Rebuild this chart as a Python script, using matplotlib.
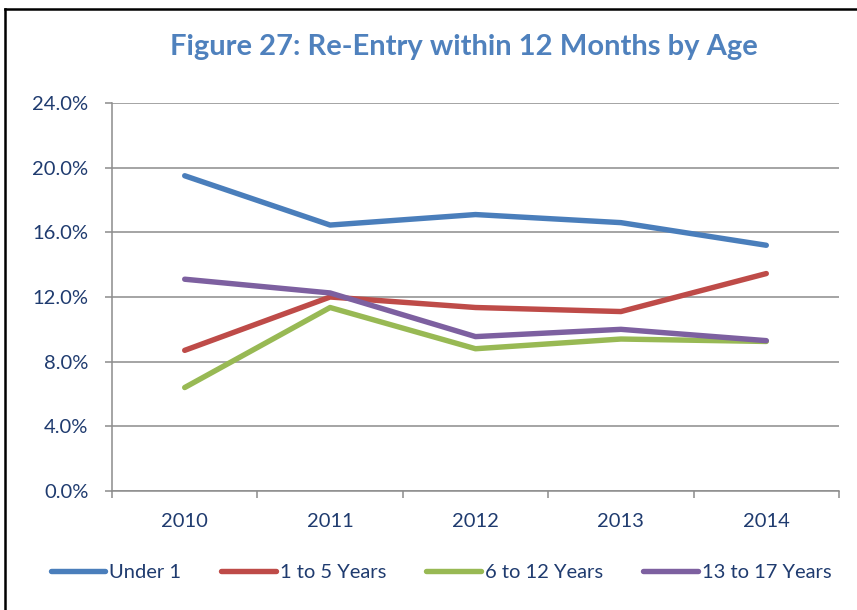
import matplotlib
matplotlib.use("Agg")
import matplotlib.pyplot as plt
from matplotlib.lines import Line2D
from matplotlib.ticker import FixedLocator, FuncFormatter

years = ["2010", "2011", "2012", "2013", "2014"]
under_1 = [19.5, 16.45, 17.1, 16.6, 15.2]
age_1_5 = [8.7, 12.0, 11.35, 11.1, 13.45]
age_6_12 = [6.4, 11.35, 8.8, 9.4, 9.25]
age_13_17 = [13.1, 12.25, 9.55, 10.0, 9.3]
series_names = ["Under 1", "1 to 5 Years", "6 to 12 Years", "13 to 17 Years"]
yticks = [0, 4, 8, 12, 16, 20, 24]

colors = ["#4A7EBB", "#BE4B48", "#98B954", "#7D60A0"]
text_color = "#1F3B6F"
grid_color = "#8C8C8C"
FONT = ["Lato", "DejaVu Sans"]
plt.rcParams["font.family"] = FONT

W, H = 857, 610
fig = plt.figure(figsize=(W / 100, H / 100), dpi=100)
ax = fig.add_axes([112 / W, 1 - 491 / H, (839 - 112) / W, (491 - 103) / H])

x = list(range(len(years)))
for vals, c, name in zip([under_1, age_1_5, age_6_12, age_13_17], colors, series_names):
    ax.plot(x, vals, color=c, lw=3.9, solid_capstyle="round", solid_joinstyle="round", label=name, zorder=3)

ax.set_xlim(-0.5, len(years) - 0.5)
ax.set_ylim(0, 24)
ax.yaxis.set_major_locator(FixedLocator(yticks))
ax.yaxis.set_major_formatter(FuncFormatter(lambda v, p: f"{v:.1f}%"))
ax.set_xticks(x)
ax.set_xticklabels(years)
ax.xaxis.set_minor_locator(FixedLocator([i - 0.5 for i in range(len(years) + 1)]))
ax.tick_params(axis="x", which="major", length=0, pad=16, labelsize=14.5, labelcolor=text_color)
ax.tick_params(axis="x", which="minor", length=5, width=1.1, color=grid_color, direction="out")
ax.tick_params(axis="y", which="major", length=5, width=1.1, color=grid_color, pad=12, labelsize=14.5, labelcolor=text_color)
ax.grid(axis="y", color=grid_color, lw=1.1, zorder=1)
for s in ["top", "right"]:
    ax.spines[s].set_visible(False)
for s in ["left", "bottom"]:
    ax.spines[s].set_color(grid_color)
    ax.spines[s].set_linewidth(1.1)

fig.text(464 / W, 1 - 47 / H, "Figure 27: Re-Entry within 12 Months by Age", ha="center", va="center",
         fontsize=21, fontweight="bold", color="#4F81BD")

# frame around the chart (top and left visible)
fig.add_artist(Line2D([5 / W, 5 / W], [0, 1 - 9 / H], color="black", lw=1.8, transform=fig.transFigure))
fig.add_artist(Line2D([5 / W, 1], [1 - 9 / H, 1 - 9 / H], color="black", lw=1.8, transform=fig.transFigure))

handles, labels = ax.get_legend_handles_labels()
leg = fig.legend(handles, labels, loc="center", bbox_to_anchor=(441 / W, 1 - 572 / H), ncol=4, frameon=False,
                 fontsize=14.5, handlelength=2.7, handletextpad=0.2, columnspacing=2.0, labelcolor=text_color)

fig.savefig("out.png", dpi=100)
